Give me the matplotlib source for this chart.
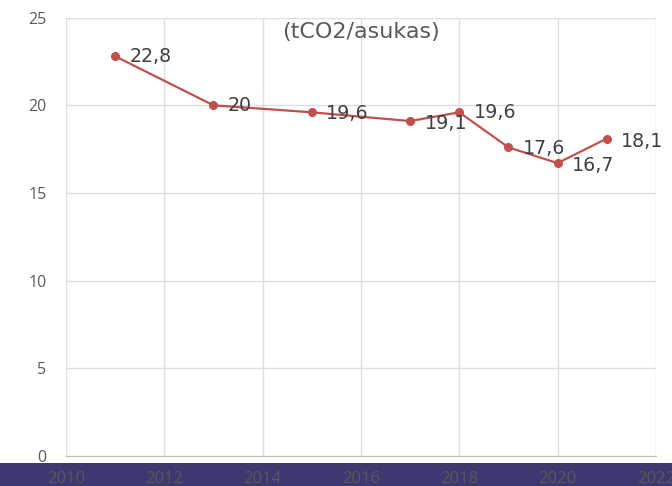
import matplotlib
matplotlib.use('Agg')
import matplotlib.pyplot as plt
from matplotlib.patches import Rectangle

# --- DATA ---
years = [2011, 2013, 2015, 2017, 2018, 2019, 2020, 2021]
values = [22.8, 20.0, 19.6, 19.1, 19.6, 17.6, 16.7, 18.1]
labels = ['22,8', '20', '19,6', '19,1', '19,6', '17,6', '16,7', '18,1']
x_ticks = [2010, 2012, 2014, 2016, 2018, 2020, 2022]
y_ticks = [0, 5, 10, 15, 20, 25]
title = '(tCO2/asukas)'

# --- STYLE ---
RED = '#c0504d'; GRID = '#dedede'; NAVY = '#3d3870'; TXT = '#404040'; TICK = '#595959'
label_dy = [0, 0, -1, -2, 0, -1, -2, -2]  # small vertical nudges in points

fig = plt.figure(figsize=(6.72, 4.86), dpi=100, facecolor='white')
ax = fig.add_axes([0.0982, 0.0623, 0.8778, 0.9013])

ax.plot(years, values, color=RED, lw=1.6, marker='o', ms=5.5, zorder=3)
for x, y, t, dy in zip(years, values, labels, label_dy):
    ax.annotate(t, (x, y), xytext=(10.5, dy), textcoords='offset points',
                ha='left', va='center', fontsize=13.7, color=TXT, family='DejaVu Sans', zorder=4)

ax.set_xlim(2010, 2022); ax.set_ylim(0, 25)
ax.set_xticks(x_ticks); ax.set_yticks(y_ticks)
ax.grid(True, color=GRID, lw=1)
ax.set_axisbelow(True)
for s in ['top', 'right', 'left']:
    ax.spines[s].set_visible(False)
ax.spines['bottom'].set_color('#bfbfbf')
ax.tick_params(length=0)
ax.tick_params(axis='y', pad=14, labelsize=11.5, labelcolor=TICK)
ax.tick_params(axis='x', pad=11, labelsize=12, labelcolor=TICK)
for lb in ax.get_xticklabels() + ax.get_yticklabels():
    lb.set_family('Open Sans')

ax.annotate(title, (0.5, 1.0), xycoords='axes fraction', xytext=(0, -10), textcoords='offset points',
            ha='center', va='center', fontsize=16, color=TICK, family='DejaVu Sans')

# navy band at the bottom, behind the x tick labels
fig.add_artist(Rectangle((0, 0), 1, 23 / 486, transform=fig.transFigure,
                         facecolor=NAVY, edgecolor='none', zorder=-1))

plt.savefig('out.png', dpi=100)
